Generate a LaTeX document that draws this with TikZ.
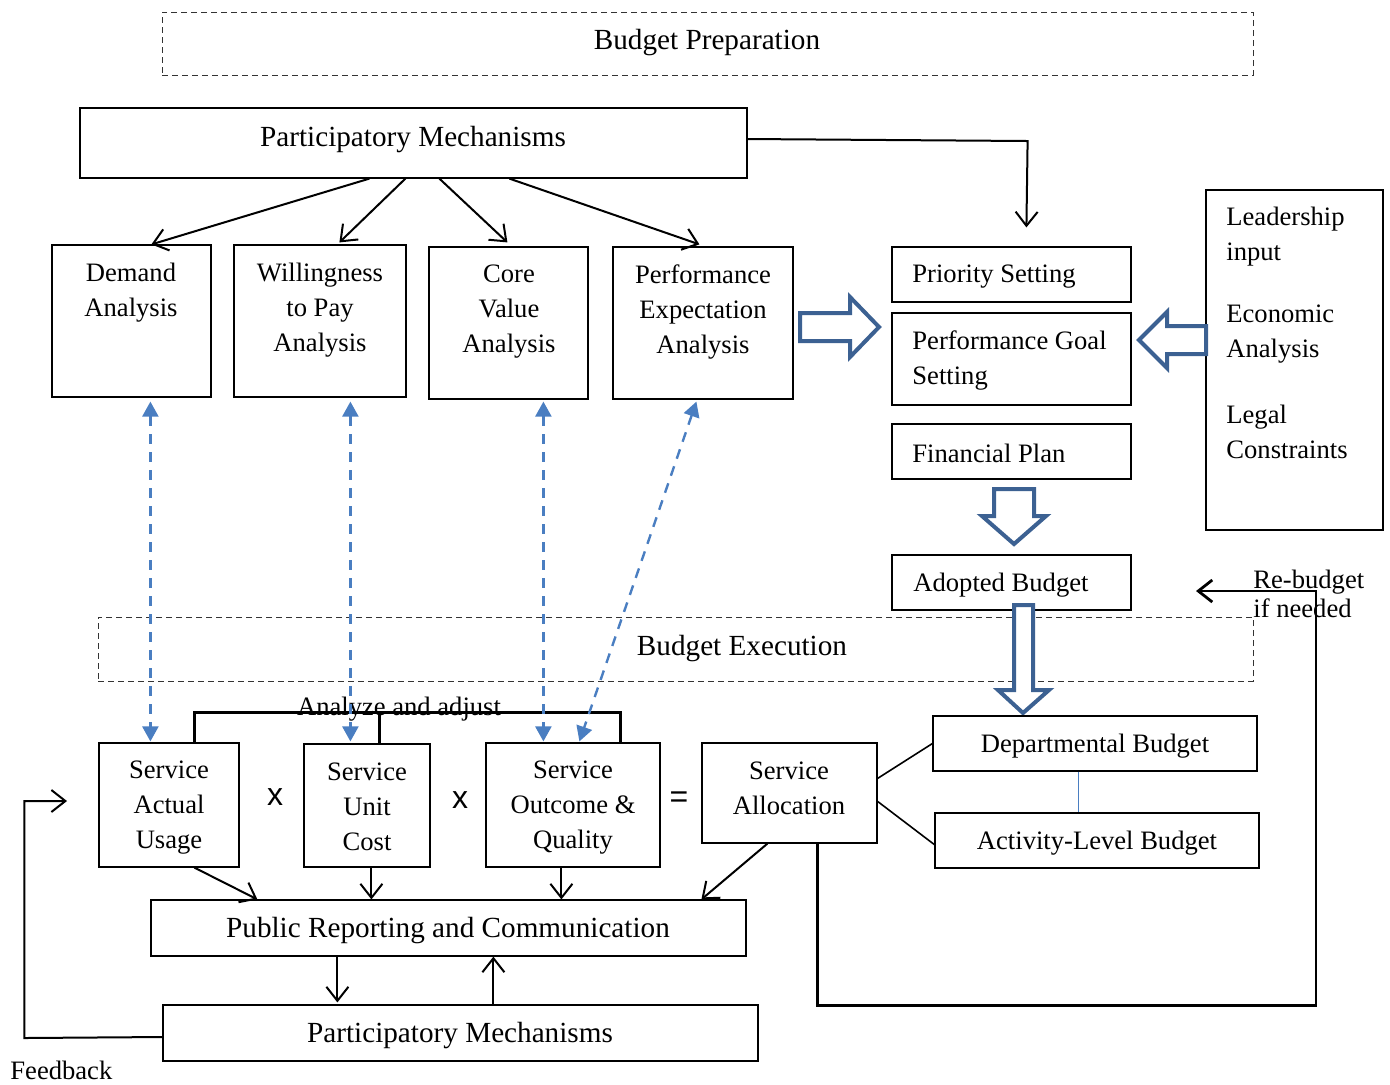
\documentclass[tikz,border=0pt]{standalone}
\usepackage{fontspec}
\setmainfont{Liberation Serif}
\newfontfamily\opsans{Liberation Sans}
\usetikzlibrary{fit,arrows.meta,calc}
\definecolor{hollowblue}{RGB}{60,97,146}
\definecolor{linkblue}{RGB}{74,126,193}
\newcommand\bodyfont{\fontsize{13.3pt}{17.5pt}\selectfont}
\newcommand\headfont{\fontsize{14.6pt}{17.6pt}\selectfont}
\newcommand\opfont{\fontsize{16pt}{18pt}\selectfont}
\begin{document}
\begin{tikzpicture}[x=0.5pt,y=-0.5pt,
  box/.style={draw, line width=0.6pt, inner sep=0pt},
  dbox/.style={draw=black!80, line width=0.5pt, dash pattern=on 3pt off 2pt, inner sep=0pt},
  txt/.style={font=\bodyfont, align=center, inner sep=0pt, yshift=-1.4pt},
  htxt/.style={txt, font=\headfont},
  ltxt/.style={txt, align=left, anchor=west},
  optxt/.style={font=\opsans\opfont, inner sep=0pt},
  flow/.style={line width=1pt, -{Straight Barb[length=7pt,width=11pt]}},
  link/.style={linkblue, line width=1.2pt, dash pattern=on 5pt off 4pt,
    {Triangle[length=7.5pt,width=8pt]}-{Triangle[length=7.5pt,width=8pt]}},
  hollow/.style={draw=hollowblue, line width=2pt, fill=white, line join=miter},
  loopline/.style={line width=1.4pt},
]
\useasboundingbox (0,0) rectangle (1390,1084);

% ---------- budget preparation ----------
\node[dbox, fit={(162,12) (1253,75)}] (prep) {};
\node[htxt] (prepT) at (707,40) {Budget Preparation};

\node[box, fit={(80,108) (747,178)}] (pmA) {};
\node[htxt] (pmAT) at (413,137) {Participatory Mechanisms};

\node[box, fit={(52,245) (211,397)}] (dem) {};
\node[txt] (demT) at (131,290) {Demand\\Analysis};
\node[box, fit={(234,245) (406,397)}] (wtp) {};
\node[txt] (wtpT) at (320,307) {Willingness\\to Pay\\Analysis};
\node[box, fit={(429,247) (588,399)}] (cva) {};
\node[txt] (cvaT) at (509,309) {Core\\Value\\Analysis};
\node[box, fit={(613,247) (793,399)}] (pea) {};
\node[txt] (peaT) at (703,309) {Performance\\Expectation\\Analysis};

\draw[flow] ($(pmA.south west)+(290,0)$) -- ($(dem.north west)+(100,0)$);
\draw[flow] ($(pmA.south west)+(326,0)$) -- ($(wtp.north west)+(106,-2)$);
\draw[flow] ($(pmA.south west)+(360,0)$) -- ($(cva.north west)+(79,-4)$);
\draw[flow] ($(pmA.south west)+(430,0)$) -- ($(pea.north west)+(87,-2)$);

\node[box, fit={(892,247) (1131,302)}] (pri) {};
\node[ltxt] (priT) at (912,274) {Priority Setting};
\node[box, fit={(892,313) (1131,405)}] (pgs) {};
\node[ltxt] (pgsT) at (912,358) {Performance Goal\\Setting};
\node[box, fit={(892,424) (1131,479)}] (fin) {};
\node[ltxt] (finT) at (912,451) {Financial Plan};
\node[box, fit={(892,555) (1131,610)}] (adb) {};
\node[ltxt] (adbT) at (913,582) {Adopted Budget};

\node[box, fit={(1206,190) (1383,530)}] (ctx) {};
\node[ltxt] (ctx1) at (1226,234) {Leadership\\input};
\node[ltxt] (ctx2) at (1226,331) {Economic\\Analysis};
\node[ltxt] (ctx3) at (1226,429) {Legal\\Constraints};

\draw[flow] ($(pmA.east)+(0,-4)$) -- ($(pmA.east)+(280,-2)$) -- ($(pri.north west)+(135,-19)$);

% ---------- budget execution ----------
\node[dbox, fit={(98,617) (1253,681)}] (exec) {};
\node[htxt] (execT) at (742,646) {Budget Execution};

\node[ltxt] (reb) at (1253,591) {Re-budget\\[-2.6pt]if needed};

% block arrows
\draw[hollow] (800,313) -- (850,313) -- (850,297) -- (879,327) -- (850,357) -- (850,341) -- (800,341) -- cycle;
\draw[hollow] (1206,326) -- (1167,326) -- (1167,312) -- (1139,340) -- (1167,368) -- (1167,354) -- (1206,354) -- cycle;
\draw[hollow] (994,489) -- (1034,489) -- (1034,516) -- (1046,516) -- (1014,544) -- (982,516) -- (994,516) -- cycle;
\draw[hollow] (1014,605) -- (1033,605) -- (1033,690) -- (1049,690) -- (1023,713) -- (998,690) -- (1014,690) -- cycle;

\node[box, fit={(99,743) (239,867)}] (sau) {};
\node[txt] (sauT) at (169,805) {Service\\Actual\\Usage};
\node[box, fit={(304,744) (430,867)}] (suc) {};
\node[txt] (sucT) at (367,804) {Service\\Unit\\Cost};
\node[box, fit={(486,743) (660,867)}] (soq) {};
\node[txt] (soqT) at (573,805) {Service\\Outcome \&\\Quality};
\node[box, fit={(702,743) (877,843)}] (sal) {};
\node[txt] (salT) at (789,785) {Service\\Allocation};

\node[optxt] (op1) at (275,797) {x};
\node[optxt] (op2) at (460,800) {x};
\node[optxt] (op3) at (679,800) {=};

\node[box, fit={(933,716) (1257,771)}] (dpb) {};
\node[txt] (dpbT) at (1095,743) {Departmental Budget};
\node[box, fit={(935,813) (1259,868)}] (alb) {};
\node[txt] (albT) at (1097,840) {Activity-Level Budget};

\draw[linkblue, line width=0.6pt] ($(dpb.south west)+(146,0)$) -- ($(alb.north west)+(144,0)$);
\draw[line width=0.8pt] ($(sal.north east)+(0,36)$) -- (dpb.west);
\draw[line width=0.8pt] ($(sal.north east)+(0,59)$) -- ($(alb.south west)+(0,-24)$);

\node[box, fit={(151,900) (746,956)}] (prc) {};
\node[htxt] (prcT) at (448,928) {Public Reporting and Communication};
\node[box, fit={(163,1005) (758,1061)}] (pmB) {};
\node[htxt] (pmBT) at (460,1033) {Participatory Mechanisms};

\draw[flow] ($(sau.south west)+(96,0)$) -- ($(prc.north west)+(107,0)$);
\draw[flow] ($(suc.south west)+(68,0)$) -- ($(prc.north west)+(221,0)$);
\draw[flow] ($(soq.south west)+(76,0)$) -- ($(prc.north west)+(411,0)$);
\draw[flow] ($(sal.south west)+(66,0)$) -- ($(prc.north west)+(551,0)$);
\draw[flow] ($(prc.south west)+(187,0)$) -- ($(pmB.north west)+(175,-2)$);
\draw[flow] ($(pmB.north west)+(331,0)$) -- ($(prc.south west)+(343,0)$);

% analyze-and-adjust bracket
\draw[loopline] ($(sau.north west)+(96,0)$) -- ++(0,-30) -| ($(soq.north west)+(135,0)$);
\draw[loopline] ($(suc.north west)+(76,0)$) -- ++(0,-31);
\node[txt] (adj) at (399,706) {Analyze and adjust};

% links between analyses and service measures
\draw[link] ($(dem.south west)+(99,4)$) -- ($(sau.north west)+(52,-1)$);
\draw[link] ($(wtp.south west)+(117,4)$) -- ($(suc.north west)+(47,-2)$);
\draw[link] ($(cva.south west)+(115,2)$) -- ($(soq.north west)+(58,-1)$);
\draw[link] ($(pea.south west)+(84,2)$) -- ($(soq.north west)+(94,-1)$);

% feedback loop
\coordinate (fbIn) at (67,801);
\draw[flow] ($(pmB.west)+(0,4)$) -- ++(-138,1) |- (fbIn);
\node[ltxt] (fbT) at (10,1068) {Feedback};

% re-budget loop
\coordinate (rebIn) at (1196,591);
\draw[loopline, -{Straight Barb[length=7pt,width=11pt]}] ($(sal.south west)+(116,0)$) -- ++(0,162) -| ($(rebIn)+(120,0)$) -- (rebIn);
\end{tikzpicture}
\end{document}
